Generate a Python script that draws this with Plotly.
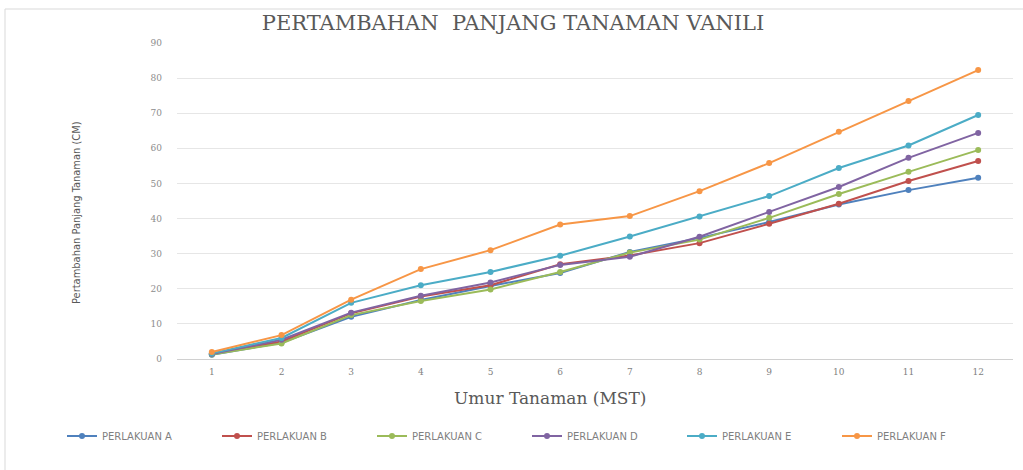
import plotly.graph_objects as go

weeks = [1, 2, 3, 4, 5, 6, 7, 8, 9, 10, 11, 12]
series_names = ["PERLAKUAN A", "PERLAKUAN B", "PERLAKUAN C", "PERLAKUAN D", "PERLAKUAN E", "PERLAKUAN F"]
perlakuan_a = [1.2, 4.6, 12.0, 16.8, 20.8, 24.5, 30.5, 34.5, 39.0, 44.0, 48.1, 51.6]
perlakuan_b = [1.5, 5.0, 13.0, 17.8, 21.0, 27.0, 29.5, 33.0, 38.5, 44.2, 50.7, 56.4]
perlakuan_c = [1.3, 4.4, 12.5, 16.5, 19.8, 24.8, 30.3, 34.0, 40.2, 47.0, 53.3, 59.5]
perlakuan_d = [1.4, 5.5, 13.2, 18.0, 21.8, 26.8, 29.1, 34.8, 41.9, 49.0, 57.3, 64.4]
perlakuan_e = [1.6, 6.0, 16.0, 21.0, 24.8, 29.4, 34.9, 40.6, 46.4, 54.4, 60.8, 69.5]
perlakuan_f = [2.0, 6.8, 16.9, 25.6, 31.0, 38.3, 40.7, 47.8, 55.8, 64.7, 73.5, 82.3]
y_ticks = [0, 10, 20, 30, 40, 50, 60, 70, 80, 90]

colors = ["#4F81BD", "#C0504D", "#9BBB59", "#8064A2", "#4BACC6", "#F79646"]
all_series = [perlakuan_a, perlakuan_b, perlakuan_c, perlakuan_d, perlakuan_e, perlakuan_f]

L, R, T, B = 177, 10, 43, 111
W, H = 1023, 470
PW, PH = W - L - R, H - T - B

def px(xp):
    return (xp - L) / PW

def py(yp):
    return (H - B - yp) / PH

fig = go.Figure()
for name, vals, col in zip(series_names, all_series, colors):
    fig.add_trace(go.Scatter(
        x=weeks, y=vals, name=name, mode="lines+markers",
        line=dict(color=col, width=2),
        marker=dict(color=col, size=6, symbol="circle"),
    ))

fig.update_layout(
    width=W, height=H,
    paper_bgcolor="white", plot_bgcolor="white",
    margin=dict(l=L, r=R, t=T, b=B, autoexpand=False),
    title=dict(text="PERTAMBAHAN  PANJANG TANAMAN VANILI", xref="container", x=513 / W,
               xanchor="center", yref="container", y=1 - 23 / H, yanchor="middle",
               font=dict(family="DejaVu Serif", size=21, color="#595959")),
    xaxis=dict(
        tickmode="array", tickvals=weeks, ticktext=[str(w) for w in weeks],
        range=[0.5, 12.5], showgrid=False, zeroline=False, automargin=False,
        showline=False, ticks="", ticklabelstandoff=6,
        tickfont=dict(family="DejaVu Serif", size=9, color="#7F7F7F"),
    ),
    yaxis=dict(
        range=[0, 90], tickmode="array", tickvals=y_ticks, automargin=False,
        showgrid=True, gridcolor="#E6E6E6", gridwidth=1,
        zeroline=True, zerolinecolor="#D0D0D0", zerolinewidth=1,
        ticks="", ticklabelstandoff=14,
        tickfont=dict(family="DejaVu Serif", size=9, color="#8C8C8C"),
    ),
    legend=dict(orientation="h", x=px(62), xanchor="left", y=py(436), yanchor="middle",
                font=dict(family="DejaVu Sans", size=10, color="#7F7F7F"),
                entrywidth=110, entrywidthmode="pixels", traceorder="normal"),
    showlegend=True,
)

fig.add_annotation(text="Umur Tanaman (MST)", xref="paper", yref="paper",
                   x=px(550), y=py(398), xanchor="center", yanchor="middle", showarrow=False,
                   font=dict(family="DejaVu Serif", size=17, color="#595959"))
fig.add_annotation(text="Pertambahan Panjang Tanaman (CM)", xref="paper", yref="paper",
                   x=px(76), y=py(213), xanchor="center", yanchor="middle", showarrow=False,
                   textangle=-90,
                   font=dict(family="DejaVu Sans Condensed", size=11, color="#595959"))

fig.add_shape(type="line", xref="paper", yref="paper",
              x0=px(5), x1=px(5), y0=py(9), y1=py(H),
              line=dict(color="#D9D9D9", width=1))
fig.add_shape(type="line", xref="paper", yref="paper",
              x0=px(5), x1=px(W), y0=py(9), y1=py(9),
              line=dict(color="#D9D9D9", width=1))

fig.write_html("out.html", config={"displayModeBar": False},
               post_script="document.body.style.margin='0';document.body.style.overflow='hidden';")
